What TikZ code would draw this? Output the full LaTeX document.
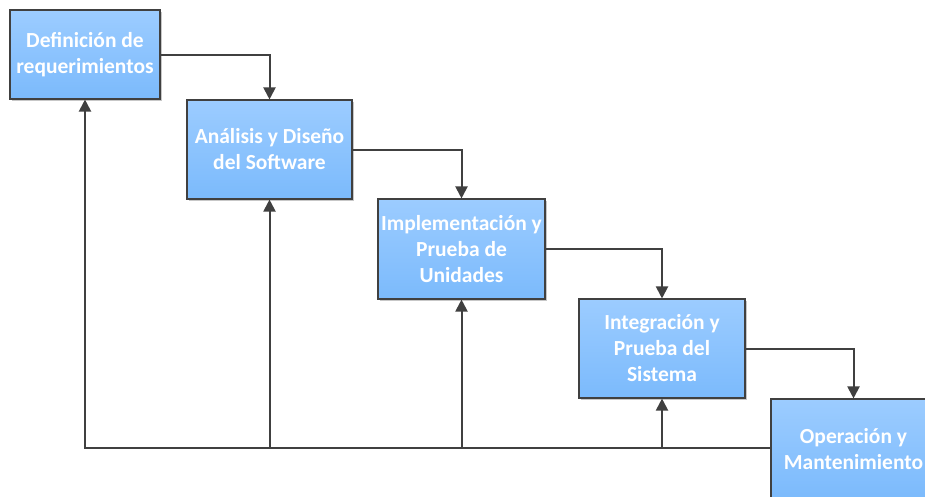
\documentclass[tikz,border=0pt]{standalone}
\usepackage{fontspec}
\setmainfont{Carlito}
\usetikzlibrary{arrows.meta,shadows}
\definecolor{boxtop}{HTML}{9CCCFF}
\definecolor{boxbot}{HTML}{7BBAFC}
\definecolor{edge}{HTML}{404040}
\tikzset{
  stage/.style={draw=edge, line width=1.1pt, top color=boxtop, bottom color=boxbot,
    text=white, font=\fontsize{21.5}{26}\selectfont\bfseries, align=center,
    inner sep=0pt, anchor=center,
    drop shadow={shadow xshift=2pt, shadow yshift=-2pt, fill=black!22, opacity=1}},
  flow/.style={draw=edge, line width=2pt, -{Triangle[length=12pt,width=12pt]}},
}
\begin{document}
\begin{tikzpicture}[x=1pt,y=-1pt]
  \useasboundingbox (0,0) rectangle (925,496);
  \fill[white] (0,0) rectangle (925,496);
  \clip (0,0) rectangle (925,496);
  \node[stage, minimum width=150pt, minimum height=89pt]  (b1) at (85,54.5)    {Definición de\\requerimientos};
  \node[stage, minimum width=165pt, minimum height=99pt]  (b2) at (269.5,149.5) {Análisis y Diseño\\del Software};
  \node[stage, minimum width=167pt, minimum height=100pt] (b3) at (461.5,249)   {Implementación y\\Prueba de\\Unidades};
  \node[stage, minimum width=166pt, minimum height=99pt]  (b4) at (662,348.5)   {Integración y\\Prueba del\\Sistema};
  \node[stage, minimum width=165pt, minimum height=101pt] (b5) at (853.5,449.5) {Operación y\\Mantenimiento};
  % forward steps
  \draw[flow] (b1.east) -| (b2.north);
  \draw[flow] (b2.east) -| (b3.north);
  \draw[flow] (b3.east) -| (b4.north);
  \draw[flow] (b4.east) -| (b5.north);
  % feedback returns
  \coordinate (ret) at ([yshift=1.5pt]b5.west);
  \draw[flow] (ret) -| (b1.south);
  \draw[flow] (ret) -| (b2.south);
  \draw[flow] (ret) -| (b3.south);
  \draw[flow] (ret) -| (b4.south);
\end{tikzpicture}
\end{document}
